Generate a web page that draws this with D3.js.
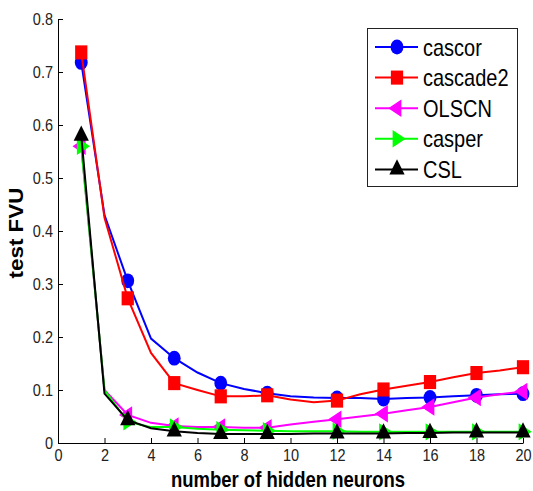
<!DOCTYPE html>
<html>
<head>
<meta charset="utf-8">
<script src="https://cdnjs.cloudflare.com/ajax/libs/d3/7.8.5/d3.min.js"></script>
<style>
  body { margin: 0; background: #fff; }
  text { font-family: "Liberation Sans", Arial, sans-serif; fill: #000; }
</style>
</head>
<body>
<script>
const width = 533, height = 491;

// data
const xs = [1, 2, 3, 4, 5, 6, 7, 8, 9, 10, 11, 12, 13, 14, 15, 16, 17, 18, 19, 20];
const markerXs = [1, 3, 5, 7, 9, 12, 14, 16, 18, 20];
const cascor   = [0.718, 0.43, 0.306, 0.197, 0.16, 0.133, 0.113, 0.102, 0.094, 0.088, 0.086, 0.085, 0.085, 0.083, 0.085, 0.086, 0.088, 0.09, 0.092, 0.093];
const cascade2 = [0.737, 0.425, 0.273, 0.17, 0.113, 0.1, 0.088, 0.088, 0.09, 0.082, 0.077, 0.08, 0.092, 0.101, 0.108, 0.115, 0.124, 0.132, 0.137, 0.143];
const olscn    = [0.56, 0.1, 0.053, 0.038, 0.032, 0.03, 0.03, 0.029, 0.029, 0.035, 0.04, 0.045, 0.05, 0.055, 0.062, 0.068, 0.077, 0.086, 0.092, 0.097];
const casper   = [0.56, 0.1, 0.04, 0.03, 0.03, 0.027, 0.025, 0.024, 0.023, 0.022, 0.022, 0.022, 0.021, 0.021, 0.021, 0.021, 0.021, 0.021, 0.021, 0.021];
const csl      = [0.58, 0.093, 0.043, 0.028, 0.022, 0.019, 0.017, 0.017, 0.017, 0.017, 0.018, 0.018, 0.018, 0.018, 0.019, 0.019, 0.02, 0.02, 0.02, 0.02];
const xTicks = [0, 2, 4, 6, 8, 10, 12, 14, 16, 18, 20];
const yTicks = [0, 0.1, 0.2, 0.3, 0.4, 0.5, 0.6, 0.7, 0.8];

const series = [
  { name: "cascor",   values: cascor,   color: "#0000ff", symbol: d3.symbolCircle,   size: 130, rot: 0 },
  { name: "cascade2", values: cascade2, color: "#ff0000", symbol: d3.symbolSquare,   size: 150, rot: 0 },
  { name: "OLSCN",    values: olscn,    color: "#ff00ff", symbol: d3.symbolTriangle, size: 100, rot: -90 },
  { name: "casper",   values: casper,   color: "#00ff00", symbol: d3.symbolTriangle, size: 100, rot: 90 },
  { name: "CSL",      values: csl,      color: "#000000", symbol: d3.symbolTriangle, size: 100, rot: 0 }
];

const stretch = 1.2; // picture is a bit taller than wide

const svg = d3.select("body").append("svg")
  .attr("width", width).attr("height", height);

const x = d3.scaleLinear().domain([0, 20]).range([58, 523]);
const y = d3.scaleLinear().domain([0, 0.8]).range([443, 19]);

// axes, ticks pointing inward
const gx = svg.append("g").attr("transform", `translate(0,${y(0)})`)
  .call(d3.axisBottom(x).tickValues(xTicks).tickSizeInner(-5).tickSizeOuter(0).tickPadding(5));
const gy = svg.append("g").attr("transform", `translate(${x(0)},0)`)
  .call(d3.axisLeft(y).tickValues(yTicks).tickFormat(d => d === 0 ? "0" : d3.format(".1f")(d))
    .tickSizeInner(-5).tickSizeOuter(0).tickPadding(5));
[gx, gy].forEach(g => {
  g.selectAll("text").style("font-size", "14.5px").style("font-family", null)
    .style("fill", "#222")
    .attr("transform", `scale(1,${stretch})`);
  g.selectAll("line, path").attr("stroke", "#000");
  g.attr("font-family", null);
});

const line = d3.line().x((d, i) => x(xs[i])).y(d => y(d));

function marker(sel, s, px, py) {
  sel.append("path")
    .attr("d", d3.symbol().type(s.symbol).size(s.size)())
    .attr("transform", `translate(${px},${py}) scale(1,1.15) rotate(${s.rot})`)
    .attr("fill", s.color);
}

series.forEach(s => {
  const g = svg.append("g");
  g.append("path").datum(s.values)
    .attr("d", line)
    .attr("fill", "none")
    .attr("stroke", s.color)
    .attr("stroke-width", 2);
  markerXs.forEach(mx => {
    const i = xs.indexOf(mx);
    marker(g, s, x(mx), y(s.values[i]));
  });
});

// axis labels
svg.append("g").attr("transform", `translate(288,487) scale(1,${stretch})`)
  .append("text").attr("text-anchor", "middle")
  .style("font-size", "18.5px").style("font-weight", "bold")
  .text("number of hidden neurons");
svg.append("g").attr("transform", `translate(23,233) scale(1,1.15) rotate(-90)`)
  .append("text").attr("text-anchor", "middle")
  .style("font-size", "19.5px").style("font-weight", "bold")
  .text("test FVU");

// legend
const legend = svg.append("g");
legend.append("rect")
  .attr("x", 367.5).attr("y", 28.5).attr("width", 150).attr("height", 158)
  .attr("fill", "#fff").attr("stroke", "#222").attr("stroke-width", 1);
series.forEach((s, i) => {
  const ly = 47 + i * 30.6;
  legend.append("line")
    .attr("x1", 375).attr("x2", 418).attr("y1", ly).attr("y2", ly)
    .attr("stroke", s.color).attr("stroke-width", 2);
  marker(legend, s, 397, ly);
  legend.append("g").attr("transform", `translate(423,${ly}) scale(1,${stretch})`)
    .append("text").attr("dy", "0.36em")
    .style("font-size", "20px")
    .text(s.name);
});
</script>
</body>
</html>
